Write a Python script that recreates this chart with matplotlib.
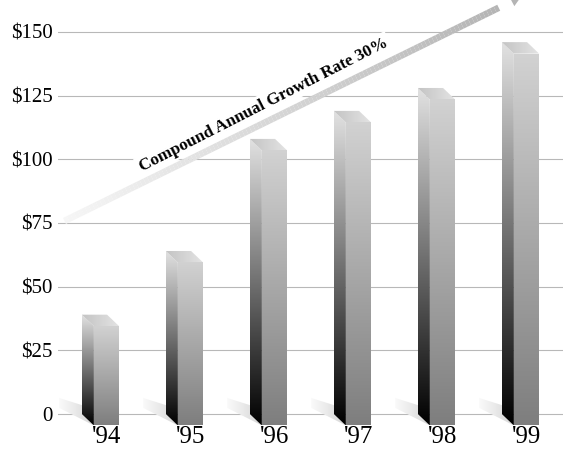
import numpy as np
import matplotlib
matplotlib.use("Agg")
import matplotlib.pyplot as plt
from matplotlib.patches import Polygon
from matplotlib.collections import LineCollection
from matplotlib.colors import LinearSegmentedColormap, to_rgb

# Revenue by year ($ millions)
years = ["'94", "'95", "'96", "'97", "'98", "'99"]
revenue = [39, 64, 108, 119, 128, 146]
tick_values = [0, 25, 50, 75, 100, 125, 150]
tick_labels = ["0", "$25", "$50", "$75", "$100", "$125", "$150"]
arrow_label = "Compound Annual Growth Rate 30%"

# pseudo-3D bar geometry (x in bar slots, y in dollars)
HALF_W = 0.15
DEPTH_X = 0.143
DEPTH_Y = 4.5

fig = plt.figure(figsize=(5.63, 4.51), dpi=100)
ax = fig.add_axes([58 / 563, 25 / 451, 505 / 563, 426 / 451])


def shade(pts, c0, c1, horizontal=False, z=3):
    poly = Polygon(pts, closed=True, facecolor="none", edgecolor="none", zorder=z)
    ax.add_patch(poly)
    xs = [p[0] for p in pts]
    ys = [p[1] for p in pts]
    g = np.linspace(0, 1, 256)
    img = g.reshape(1, -1) if horizontal else g.reshape(-1, 1)
    cmap = LinearSegmentedColormap.from_list("g", [to_rgb(c0), to_rgb(c1)])
    im = ax.imshow(img, cmap=cmap, extent=[min(xs), max(xs), min(ys), max(ys)],
                   origin="lower", aspect="auto", zorder=z, interpolation="bilinear")
    im.set_clip_path(poly)
    return im


for i, v in enumerate(revenue):
    xl = i - HALF_W
    xr = i + HALF_W
    x0 = xl - DEPTH_X
    # floor shadow behind the bar
    shade([(x0 - 0.27, 6.3), (x0, 3.5), (xl, -DEPTH_Y), (x0 - 0.27, 2.4)],
          "#fafafa", "#d6d6d6", horizontal=True, z=2)
    # left side face
    shade([(x0, 0), (xl, -DEPTH_Y), (xl, v - DEPTH_Y), (x0, v)],
          "#000000", "#e2e2e2", z=3)
    # front face
    shade([(xl, -DEPTH_Y), (xr, -DEPTH_Y), (xr, v - DEPTH_Y), (xl, v - DEPTH_Y)],
          "#7e7e7e", "#d2d2d2", z=3)
    # top face
    shade([(x0, v), (x0 + 2 * HALF_W, v), (xr, v - DEPTH_Y), (xl, v - DEPTH_Y)],
          "#c4c4c4", "#e4e4e4", horizontal=True, z=3)

# growth arrow with a light-to-grey fade
x_start, y_start = -0.50, 75.8
x_end, y_end = 4.67, 159.5
t = np.linspace(0, 1, 120)
xs = x_start + (x_end - x_start) * t
ys = y_start + (y_end - y_start) * t
segs = np.stack([np.column_stack([xs[:-1], ys[:-1]]),
                 np.column_stack([xs[1:], ys[1:]])], axis=1)
fade = LinearSegmentedColormap.from_list("fade", ["#f6f6f6", "#b4b4b4"])
lc = LineCollection(segs, colors=fade(t[:-1]), linewidths=4.8, zorder=4,
                    capstyle="butt")
ax.add_collection(lc)
ax.annotate("", xy=(4.95, 164.5), xytext=(x_end - 0.05, y_end - 0.8),
            arrowprops=dict(arrowstyle="-|>", mutation_scale=22, color="#b4b4b4",
                            lw=0, shrinkA=0, shrinkB=0),
            annotation_clip=False, zorder=4)

ax.text(1.87, 121.5, arrow_label, rotation=27, rotation_mode="anchor",
        ha="center", va="center", fontsize=12.3, fontweight="bold",
        family="Liberation Serif", zorder=5,
        bbox=dict(boxstyle="square,pad=0.15", fc="white", ec="none"))

ax.set_xlim(-0.577, 5.435)
ax.set_ylim(-4.71, 162.54)
ax.set_yticks(tick_values)
ax.set_yticklabels(tick_labels, family="Liberation Serif", fontsize=15)
ax.set_xticks(range(len(years)))
ax.set_xticklabels(years, family="Liberation Serif", fontsize=18)
ax.tick_params(axis="both", length=0)
ax.tick_params(axis="y", pad=4)
ax.tick_params(axis="x", pad=0)
ax.grid(axis="y", color="#b8b8b8", linewidth=0.8)
ax.set_axisbelow(True)
for s in ax.spines.values():
    s.set_visible(False)

fig.savefig("out.png", dpi=100)
